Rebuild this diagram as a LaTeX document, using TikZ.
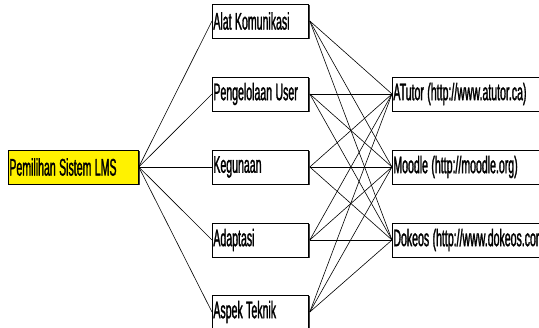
\documentclass[tikz,border=0pt]{standalone}
\usepackage{fontspec}
\setmainfont[FakeStretch=0.44, FakeBold=1.2]{Liberation Sans}
\usetikzlibrary{shadows}

\tikzset{
  kotak/.style={draw=black, line width=0.8pt, fill=white, minimum height=34pt,
    inner sep=1pt, align=left, anchor=west, font=\fontsize{24}{25}\selectfont,
    execute at begin node={\spaceskip=3.4pt\relax},
    general shadow={shadow xshift=1.4pt, shadow yshift=-1.4pt, fill=black!75}},
  garis/.style={line width=0.6pt}
}

\begin{document}
\begin{tikzpicture}[x=1pt, y=-1pt]
            \useasboundingbox (0,0) rectangle (539,328);
            \clip (0,0) rectangle (539,328);
            % kriteria utama
            \node[kotak, fill=yellow, text width=128pt] (lms) at (8,167) {Pemilihan Sistem LMS};
            % kriteria
            \node[kotak, text width=94pt] (alat) at (212,21) {Alat Komunikasi};
            \node[kotak, text width=94pt] (user) at (212,94) {Pengelolaan User};
            \node[kotak, text width=94pt] (guna) at (212,167) {Kegunaan};
            \node[kotak, text width=94pt] (adapt) at (212,240) {Adaptasi};
            \node[kotak, text width=94pt] (teknik) at (212,312) {Aspek Teknik};
            % alternatif
            \node[kotak, text width=160pt] (atutor) at (392,94) {ATutor (http://www.atutor.ca)};
            \node[kotak, text width=160pt] (moodle) at (392,167) {Moodle (http://moodle.org)};
            \node[kotak, text width=160pt] (dokeos) at (392,240) {Dokeos (http://www.dokeos.com)};

            \foreach \k in {alat, user, guna, adapt, teknik}
              \draw[garis] (lms.east) -- (\k.west);
            \foreach \k in {alat, user, guna, adapt, teknik}
              \foreach \a in {atutor, moodle, dokeos}
                \draw[garis] ([xshift=1pt]\k.east) -- (\a.west);
        \end{tikzpicture}
\end{document}
